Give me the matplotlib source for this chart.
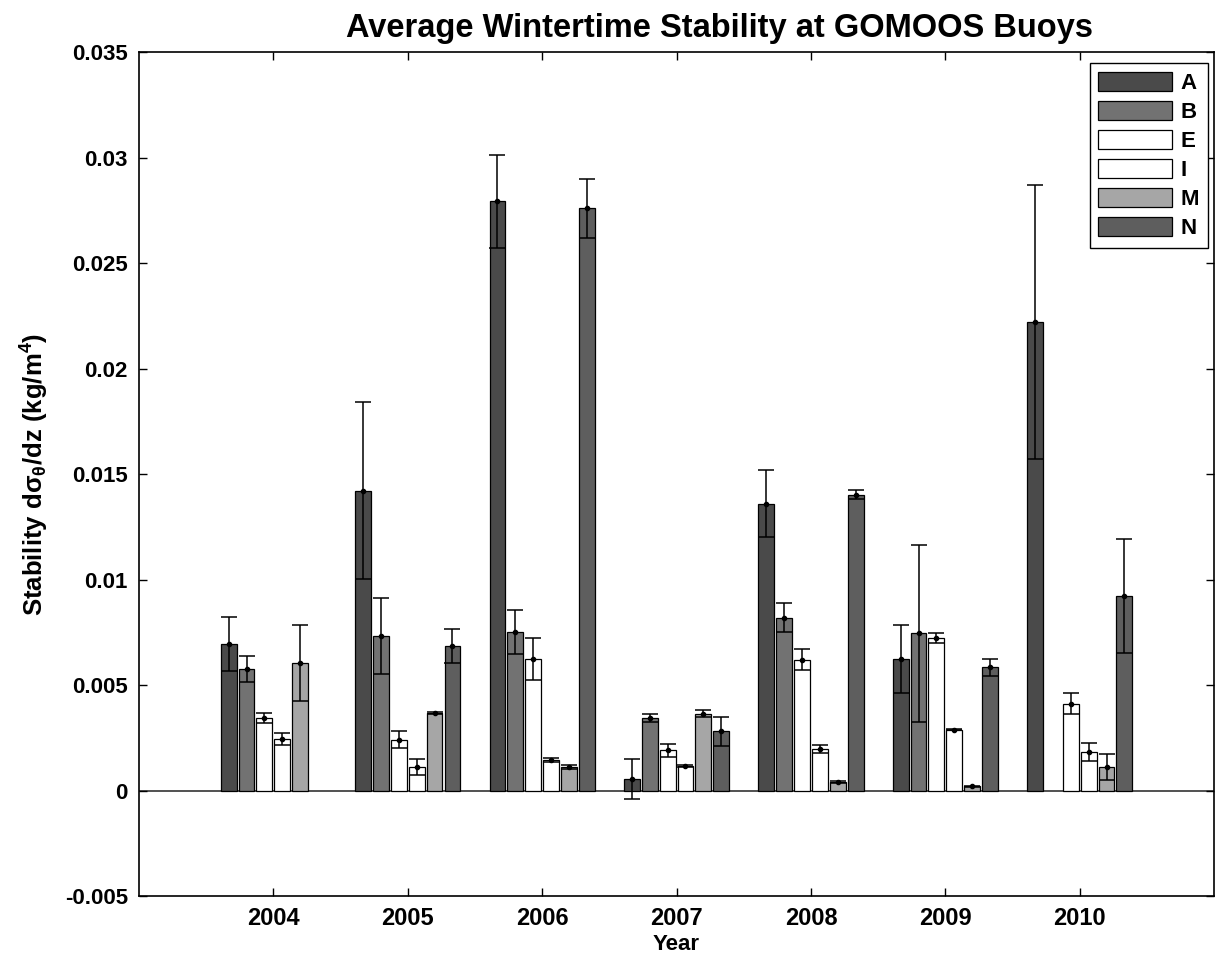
"""Average wintertime stability at GOMOOS buoys, grouped bars with error bars."""

import matplotlib
matplotlib.use("Agg")
import matplotlib.pyplot as plt
import numpy as np

nan = np.nan

years = [2004, 2005, 2006, 2007, 2008, 2009, 2010]
buoys = ["A", "B", "E", "I", "M", "N"]

stab_a = [0.00695, 0.01422, 0.02793, 0.00055, 0.0136, 0.00624, 0.0222]
err_a = [0.0013, 0.0042, 0.0022, 0.00097, 0.0016, 0.0016, 0.0065]
stab_b = [0.00577, 0.00731, 0.00752, 0.00344, 0.0082, 0.00746, nan]
err_b = [0.0006, 0.0018, 0.00105, 0.0002, 0.0007, 0.0042, nan]
stab_e = [0.00344, 0.00242, 0.00624, 0.0019, 0.00621, 0.00723, 0.00411]
err_e = [0.00023, 0.0004, 0.001, 0.0003, 0.0005, 0.00023, 0.0005]
stab_i = [0.00245, 0.00112, 0.00144, 0.00115, 0.00197, 0.00288, 0.00182]
err_i = [0.00028, 0.0004, 0.0001, 0.00005, 0.0002, 0.00003, 0.00044]
stab_m = [0.00605, 0.00368, 0.00112, 0.00365, 0.00041, 0.0002, 0.00112]
err_m = [0.0018, 0.00005, 0.0001, 0.00015, 0.00005, 0.00003, 0.0006]
stab_n = [nan, 0.00684, 0.02761, 0.00281, 0.01403, 0.00585, 0.00924]
err_n = [nan, 0.0008, 0.0014, 0.0007, 0.0002, 0.0004, 0.0027]

values = [stab_a, stab_b, stab_e, stab_i, stab_m, stab_n]
errors = [err_a, err_b, err_e, err_i, err_m, err_n]
colors = ["#4a4a4a", "#727272", "#ffffff", "#ffffff", "#a6a6a6", "#5e5e5e"]

plt.rcParams["font.family"] = ["Liberation Sans", "DejaVu Sans"]
plt.rcParams["font.weight"] = "bold"
plt.rcParams["mathtext.fontset"] = "custom"
plt.rcParams["mathtext.rm"] = "Liberation Sans:bold"
plt.rcParams["mathtext.it"] = "Liberation Sans:bold"
plt.rcParams["mathtext.bf"] = "Liberation Sans:bold"
plt.rcParams["mathtext.default"] = "bf"

fig = plt.figure(figsize=(12.19, 9.61), dpi=100)
ax = fig.add_axes([0.114, 0.0676, 0.882, 0.878])

x = np.array(years, dtype=float)
step = 0.133
width = 0.118
for k, (name, vals, errs, col) in enumerate(zip(buoys, values, errors, colors)):
    pos = x + (k - 2.5) * step
    ax.bar(pos, vals, width=width, color=col, edgecolor="black",
           linewidth=0.9, label=name, zorder=2)
    ax.errorbar(pos, vals, yerr=errs, fmt=".", color="black", markersize=6,
                elinewidth=1.1, capsize=6, capthick=1.1, zorder=3)

ax.axhline(0, color="#333333", linewidth=1.2, zorder=1)

ax.set_xlim(2003, 2011)
ax.set_ylim(-0.005, 0.035)
ax.set_xticks(years)
ax.set_xticklabels([str(y) for y in years])
ax.set_yticks(np.arange(-0.005, 0.0351, 0.005))
ax.set_yticklabels(["-0.005", "0", "0.005", "0.01", "0.015", "0.02",
                    "0.025", "0.03", "0.035"])
ax.tick_params(direction="in", length=6, width=1, labelsize=16,
               top=True, right=True, pad=8)
ax.tick_params(axis="x", labelsize=17)
for lab in ax.get_xticklabels() + ax.get_yticklabels():
    lab.set_fontweight("bold")
for sp in ax.spines.values():
    sp.set_linewidth(1.2)

ax.set_title("Average Wintertime Stability at GOMOOS Buoys",
             fontsize=23.5, fontweight="bold", pad=11, x=0.54)
ax.set_xlabel("Year", fontsize=16, fontweight="bold", labelpad=3)
ax.set_ylabel(r"Stability d$\sigma_\theta$/dz (kg/m$^4$)",
              fontsize=18.5, fontweight="bold", labelpad=10)

leg = ax.legend(loc="upper right", bbox_to_anchor=(0.9944, 0.987),
                borderaxespad=0, fontsize=16, handlelength=3.3,
                handleheight=0.9, labelspacing=0.32, handletextpad=0.4,
                borderpad=0.4, fancybox=False, framealpha=1,
                edgecolor="black")
leg.get_frame().set_linewidth(1.0)
for t in leg.get_texts():
    t.set_fontweight("bold")

fig.savefig("out.png", dpi=100)
